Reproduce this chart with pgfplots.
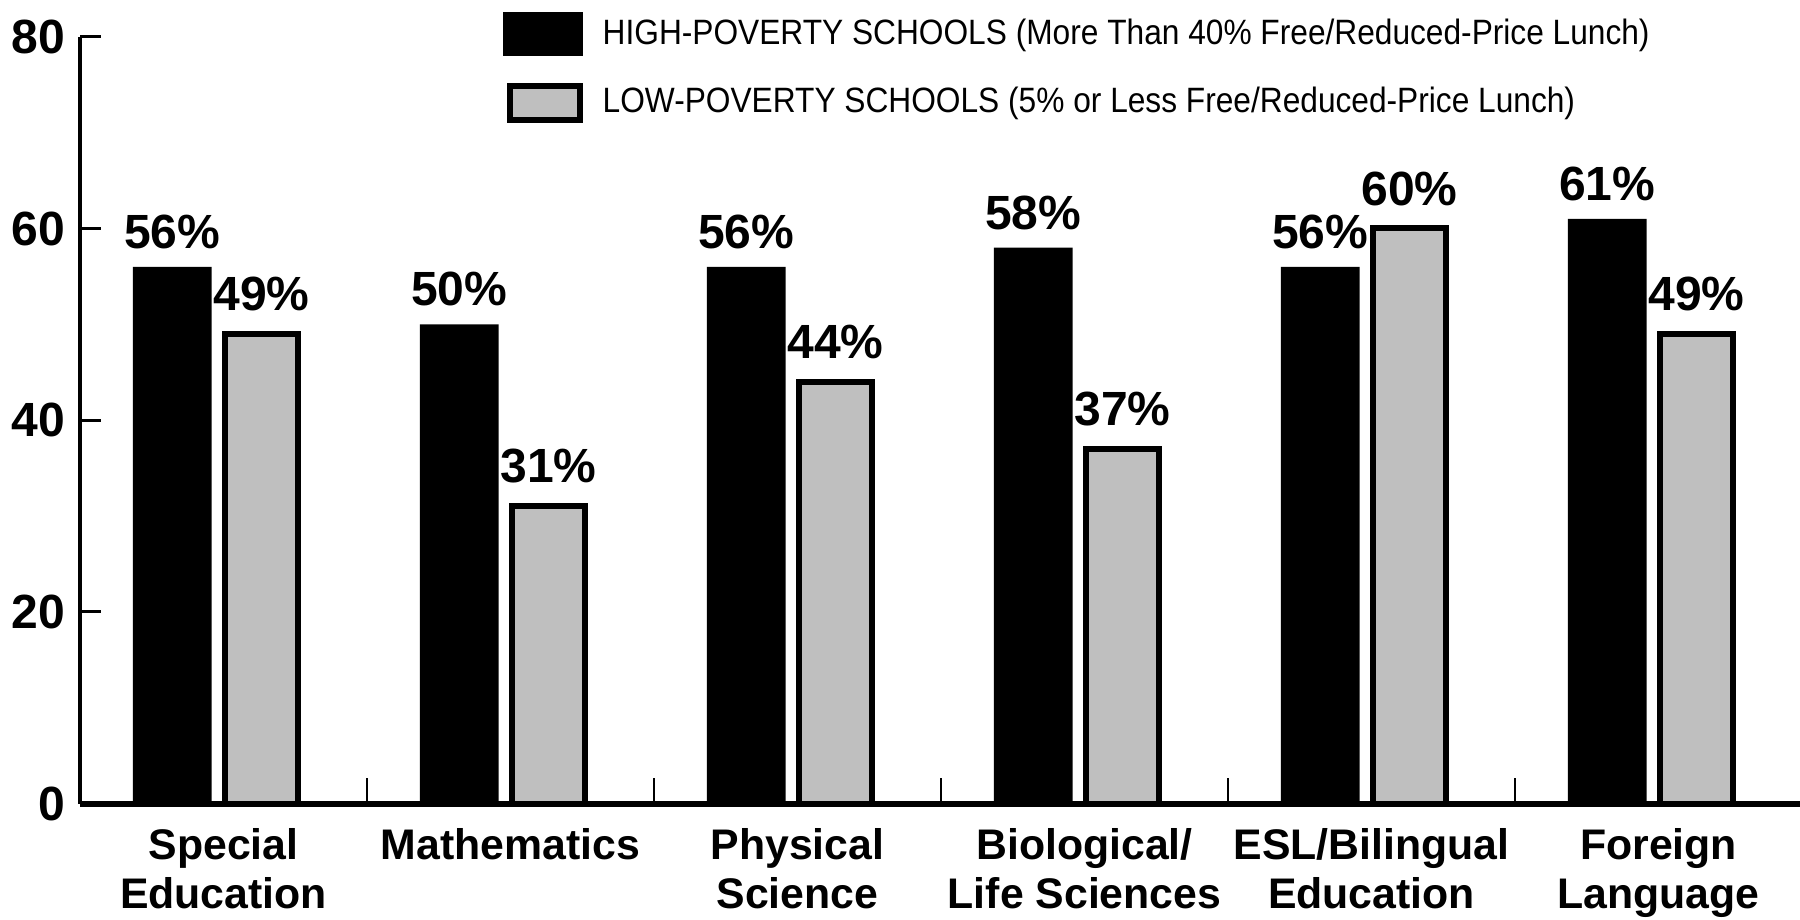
\documentclass[border=0pt]{standalone}
\usepackage{fontspec}
\setmainfont{Liberation Sans}
\usepackage{graphicx}
\usepackage{pgfplots}
\pgfplotsset{compat=1.18}

\begin{document}
\begin{tikzpicture}
\useasboundingbox (0,0) rectangle (450pt,230pt);
\begin{axis}[
  at={(20pt,29.1pt)}, anchor=south west,
  scale only axis, width=430.5pt, height=191.7pt,
  xmin=-0.5, xmax=5.5, ymin=0, ymax=80,
  clip=false,
  axis lines=left,
  x axis line style={line width=1.5pt,-},
  y axis line style={line width=1pt,-},
  tick align=inside,
  major tick length=5.2pt,
  ytick={0,20,40,60,80},
  ytick style={line width=0.8pt, black},
  xtick={0,1,2,3,4,5},
  xtick style={draw=none},
  xticklabels={{Special\\Education},{Mathematics},{Physical\\Science},{Biological/\\Life Sciences},{ESL/Bilingual\\Education},{Foreign\\Language}},
  xticklabel style={align=center, anchor=north, inner sep=0pt, yshift=-6pt,
    font=\bfseries\fontsize{10.7}{12.3}\selectfont},
  yticklabel style={anchor=east, inner sep=0pt, xshift=-3.6pt,
    font=\bfseries\fontsize{12}{14}\selectfont},
  /pgf/number format/assume math mode=true,
  legend style={at={(0.245,1.033)}, anchor=north west, draw=none, fill=none,
    inner sep=0pt, row sep=6.8pt, column sep=5pt,
    font=\fontsize{8.8}{10}\selectfont, nodes={inner sep=0pt}},
  legend cell align=left,
  nodes near coords={\pgfmathprintnumber{\pgfplotspointmeta}\%},
  every node near coord/.append style={font=\bfseries\fontsize{12}{14}\selectfont,
    anchor=south, inner sep=0pt, black},
]
% High-poverty schools
\addplot[ybar, bar width=19.7pt, bar shift=-12.8pt, fill=black, draw=none,
  every node near coord/.append style={xshift=-12.8pt, yshift=4.3pt},
  legend image code/.code={\fill[black] (0pt,-5.5pt) rectangle (20pt,5.5pt);}]
  coordinates {(0,56) (1,50) (2,56) (3,58) (4,56) (5,61)};
\addlegendentry{\scalebox{0.9}[1]{HIGH-POVERTY SCHOOLS (More Than 40\% Free/Reduced-Price Lunch)}}
% Low-poverty schools
\addplot[ybar, bar width=18.3pt, bar shift=9.5pt, fill=black!25, draw=black, line width=1.5pt,
  every node near coord/.append style={xshift=9.5pt, yshift=5pt},
  legend image code/.code={\draw[fill=black!25, line width=1.5pt] (1.75pt,-4.15pt) rectangle (19.25pt,4.15pt);}]
  coordinates {(0,49) (1,31) (2,44) (3,37) (4,60) (5,49)};
\addlegendentry{\scalebox{0.9}[1]{LOW-POVERTY SCHOOLS (5\% or Less Free/Reduced-Price Lunch)}}
% category separators on the baseline
\draw[line width=0.35pt] (axis cs:0.5,0) -- (axis cs:0.5,2.63);
\draw[line width=0.35pt] (axis cs:1.5,0) -- (axis cs:1.5,2.63);
\draw[line width=0.35pt] (axis cs:2.5,0) -- (axis cs:2.5,2.63);
\draw[line width=0.35pt] (axis cs:3.5,0) -- (axis cs:3.5,2.63);
\draw[line width=0.35pt] (axis cs:4.5,0) -- (axis cs:4.5,2.63);
\end{axis}
\end{tikzpicture}
\end{document}
